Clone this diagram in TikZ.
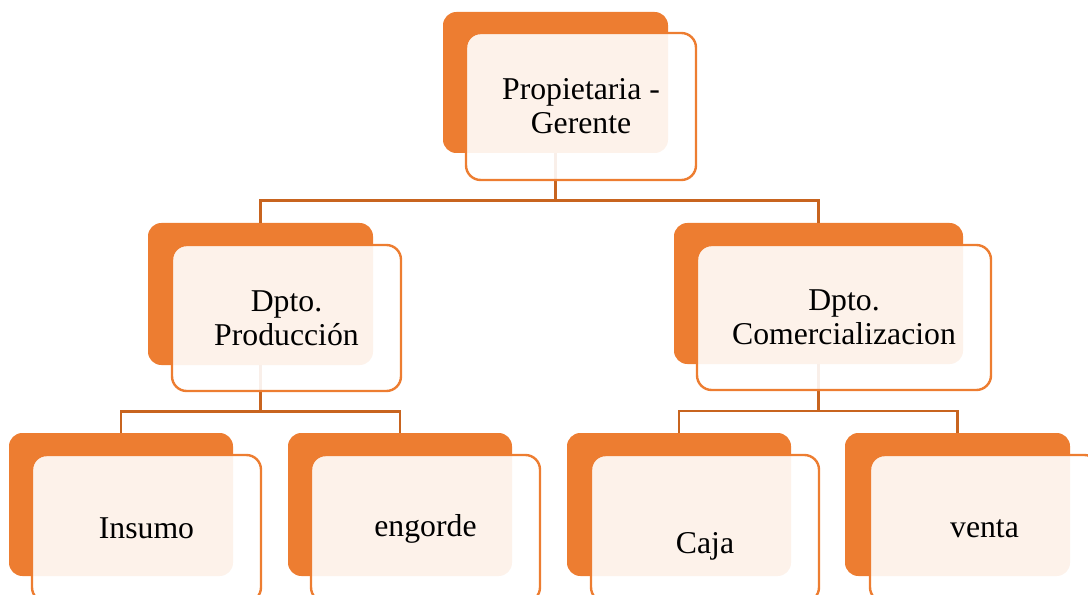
\documentclass[tikz,border=0pt]{standalone}
\usepackage{fontspec}
\setmainfont{Liberation Serif}
\definecolor{orng}{HTML}{ED7D31}
\definecolor{connc}{HTML}{C8641F}
\begin{document}
\begin{tikzpicture}[x=0.75pt,y=-0.75pt,
  backbox/.style 2 args={draw=none,fill=orng,rounded corners=10pt,inner sep=0pt,
     minimum width=#1*0.75pt,minimum height=#2*0.75pt},
  frontbox/.style 2 args={draw=orng,line width=1.8pt,fill=white,fill opacity=0.9,
     rounded corners=11pt,inner sep=0pt,minimum width=#1*0.75pt,minimum height=#2*0.75pt},
  lbl/.style={align=center,font=\fontsize{23.8pt}{25.5pt}\selectfont,text=black,inner sep=0pt},
  conn/.style={draw=connc,line width=1.9pt}]
\useasboundingbox (0,0) rectangle (1088,595);
\clip (0,0) rectangle (1088,595);
% back boxes
\node[backbox={225}{141}] (b0) at (555.5,82.5) {};
\node[backbox={225}{142}] (b1) at (260.5,294) {};
\node[backbox={289}{141}] (b2) at (818.5,293.5) {};
\node[backbox={224}{143}] (b11) at (121,504.5) {};
\node[backbox={224}{143}] (b12) at (400,504.5) {};
\node[backbox={224}{143}] (b21) at (679,504.5) {};
\node[backbox={225}{143}] (b22) at (957.5,504.5) {};
% connectors
\draw[conn] (b0.south) -- ++(0,47) coordinate (j0);
\draw[conn] (j0) -| (b1.north);
\draw[conn] (j0) -| (b2.north);
\draw[conn] (b1.south) -- ++(0,46) coordinate (j1);
\draw[conn] (j1) -| (b11.north);
\draw[conn] (j1) -| (b12.north);
\draw[conn] (b2.south) -- ++(0,46.5) coordinate (j2);
\draw[conn] (j2) -| (b21.north);
\draw[conn] (j2) -| (b22.north);
% front boxes
\node[frontbox={230}{147}] (f0) at (581,106.5) {};
\node[frontbox={229}{146}] (f1) at (286.5,318) {};
\node[frontbox={294}{145}] (f2) at (844,317.5) {};
\node[frontbox={229}{147}] (f11) at (146.5,528.5) {};
\node[frontbox={229}{147}] (f12) at (425.5,528.5) {};
\node[frontbox={228}{147}] (f21) at (705,528.5) {};
\node[frontbox={229}{147}] (f22) at (984.5,528.5) {};
% labels
\node[lbl] (t0) at (f0.center) {Propietaria -\\Gerente};
\node[lbl] (t1) at (f1.center) {Dpto.\\Producción};
\node[lbl] (t2) at (f2.center) {Dpto.\\Comercializacion};
\node[lbl] (t11) at (f11.center) {Insumo};
\node[lbl] (t12) at (f12.center) {engorde};
\node[lbl] (t21) at ([yshift=-13.5pt]f21.center) {Caja};
\node[lbl] (t22) at (f22.center) {venta};
\end{tikzpicture}
\end{document}
